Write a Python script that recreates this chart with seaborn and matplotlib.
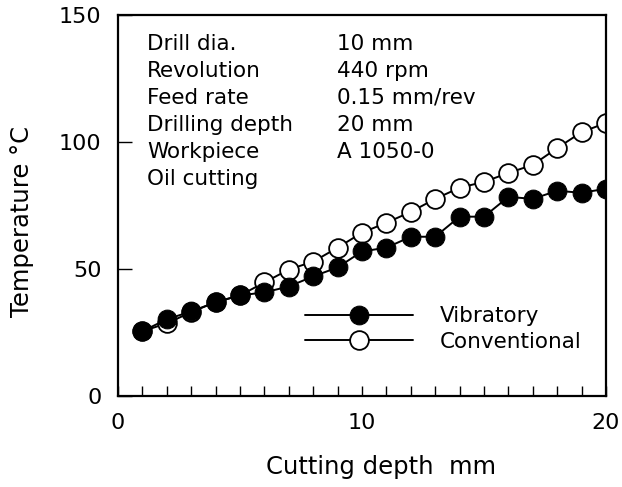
import matplotlib
matplotlib.use("Agg")
import matplotlib.pyplot as plt
import seaborn as sns
import pandas as pd
from matplotlib.ticker import MultipleLocator

depth = list(range(1, 21))
vibratory = [25.5, 30.2, 33.3, 36.9, 39.6, 40.8, 43.1, 47.1, 50.6, 56.9,
             58.4, 62.7, 62.7, 70.6, 70.6, 78.4, 77.6, 80.8, 80.0, 81.6]
conventional = [25.5, 28.6, 33.0, 37.0, 39.6, 44.7, 49.8, 52.9, 58.4, 64.3,
                68.2, 72.5, 77.6, 82.0, 84.3, 87.8, 91.0, 97.6, 103.9, 107.5]

info_labels = ["Drill dia.", "Revolution", "Feed rate", "Drilling depth", "Workpiece", "Oil cutting"]
info_values = ["10 mm", "440 rpm", "0.15 mm/rev", "20 mm", "A 1050-0", ""]

sns.set_style("white")
plt.rcParams['font.family'] = ['DejaVu Sans']
plt.rcParams.update({"text.color": "black", "axes.labelcolor": "black",
                     "xtick.color": "black", "ytick.color": "black"})

fig = plt.figure(figsize=(6.22, 4.87), dpi=100)
ax = fig.add_axes([118/622, 1-396/487, 488/622, 381/487])

df = pd.DataFrame({"depth": depth + depth,
                   "temp": vibratory + conventional,
                   "series": ["Vibratory"] * 20 + ["Conventional"] * 20})

sns.lineplot(data=df[df.series == "Conventional"], x="depth", y="temp", ax=ax,
             color="black", lw=1.4, marker="o", markersize=13.5,
             markerfacecolor="white", markeredgecolor="black", markeredgewidth=1.3,
             label="Conventional", zorder=2)
sns.lineplot(data=df[df.series == "Vibratory"], x="depth", y="temp", ax=ax,
             color="black", lw=1.4, marker="o", markersize=13.5,
             markerfacecolor="black", markeredgecolor="black",
             label="Vibratory", zorder=3)

ax.set_xlim(0, 20)
ax.set_ylim(0, 150)
ax.set_xticks([0, 10, 20])
ax.set_yticks([0, 50, 100, 150])
ax.xaxis.set_minor_locator(MultipleLocator(1))
ax.tick_params(axis="x", which="both", direction="in", length=7, width=1, labelsize=16, pad=12, bottom=True)
ax.tick_params(axis="y", which="major", direction="in", length=10, width=1, labelsize=16, pad=12, left=True)
for s in ax.spines.values():
    s.set_linewidth(1.6)
    s.set_color("black")

ax.set_xlabel("Cutting depth  mm", fontsize=17.5)
ax.set_ylabel("Temperature °C", fontsize=17.5)
ax.xaxis.set_label_coords(0.539, -0.155)
ax.yaxis.set_label_coords(-0.172, 0.457)

for i, (l, v) in enumerate(zip(info_labels, info_values)):
    y = 0.924 - i * 0.0709
    ax.text(0.059, y, l, transform=ax.transAxes, fontsize=15.5, va="center", ha="left")
    if v:
        ax.text(0.448, y, v, transform=ax.transAxes, fontsize=15.5, va="center", ha="left")

handles, labels = ax.get_legend_handles_labels()
order = [labels.index("Vibratory"), labels.index("Conventional")]
ax.legend([handles[i] for i in order], [labels[i] for i in order],
          loc="upper left", bbox_to_anchor=(0.383, 0.236), frameon=False,
          fontsize=15.5, handlelength=5.0, handletextpad=1.25, labelspacing=0.26,
          borderpad=0, borderaxespad=0)

fig.savefig("out.png", dpi=100)
